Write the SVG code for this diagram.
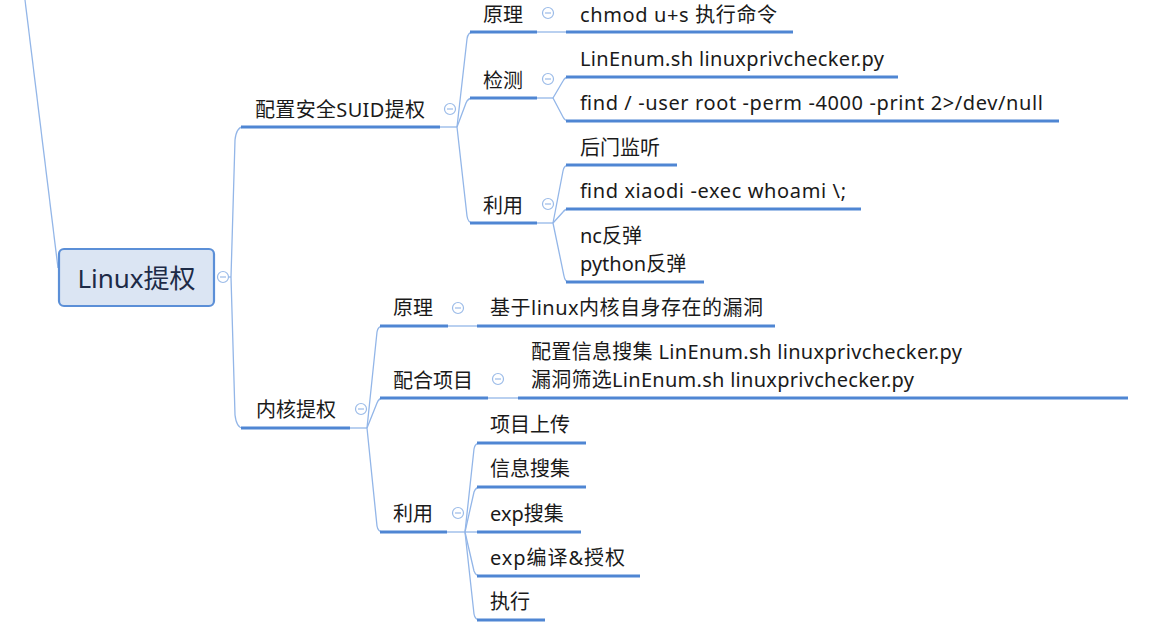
<svg xmlns="http://www.w3.org/2000/svg" width="1166" height="626" viewBox="0 0 1166 626">
<style>
.t{font-family:"Segoe UI","Noto Sans","Noto Sans CJK SC",sans-serif;font-size:20px;fill:#1a1a1a}
.ul{stroke:#4f86d3;stroke-width:3.2;fill:none}
.cn{stroke:#93b6e8;stroke-width:1.3;fill:none}
.cc{fill:#fff;stroke:#9bbbe8;stroke-width:1.2}
.cm{stroke:#9bbbe8;stroke-width:1.2}
</style>
<defs>
<g id="col"><circle class="cc" cx="0" cy="0" r="5.5"/><line class="cm" x1="-3" y1="0" x2="3" y2="0"/></g>
</defs>
<rect width="1166" height="626" fill="#fff"/>
<g id="connectors">
<path class="cn" d="M25 0 L58 268"/>
<path class="cn" d="M228 277 L231 277"/>
<path class="cn" d="M231 277 L235 140 Q236.5 127 243 127"/>
<path class="cn" d="M231 277 L235 415 Q236.5 428 243 428"/>
<path class="cn" d="M440 127 L457 127"/>
<path class="cn" d="M457 127 L467 39 Q468 32 473 32"/>
<path class="cn" d="M457 127 L466 103 Q468 98 473 98"/>
<path class="cn" d="M457 127 L467 216 Q468 223 473 223"/>
<path class="cn" d="M537 32 L566 32"/>
<path class="cn" d="M537 98 L553 98"/>
<path class="cn" d="M553 98 L563 81 Q565 77 569 77"/>
<path class="cn" d="M553 98 L563 117 Q565 121 569 121"/>
<path class="cn" d="M537 223 L553 223"/>
<path class="cn" d="M553 223 L563 171 Q564 165 569 165"/>
<path class="cn" d="M553 223 L563 212 Q565 209 569 209"/>
<path class="cn" d="M553 223 L564 276 Q565 282 569 282"/>
<path class="cn" d="M350 428 L367 428"/>
<path class="cn" d="M367 428 L377 332 Q378 326 383 326"/>
<path class="cn" d="M367 428 L377 403 Q379 398 383 398"/>
<path class="cn" d="M367 428 L377 526 Q378 532 383 532"/>
<path class="cn" d="M448 326 L477 326"/>
<path class="cn" d="M488 398 L518 398"/>
<path class="cn" d="M447 532 L465 532"/>
<path class="cn" d="M465 532 L474 449 Q475 443 480 443"/>
<path class="cn" d="M465 532 L474 492 Q476 487 480 487"/>
<path class="cn" d="M465 532 L480 532"/>
<path class="cn" d="M465 532 L474 571 Q476 576 480 576"/>
<path class="cn" d="M465 532 L474 614 Q475 620 480 620"/>
</g>
<g id="root">
<rect x="59" y="249" width="155" height="57" rx="5" fill="#dbe5f3" stroke="#5b8fd7" stroke-width="2.2"/>
<text x="136.5" y="288" text-anchor="middle" style="font-family:'Segoe UI','Noto Sans','Noto Sans CJK SC',sans-serif;font-size:26px;fill:#1d2b47">Linux提权</text>
<use href="#col" x="223" y="277"/>
</g>
<g id="suid">
<path class="ul" d="M241 127 H440"/>
<text class="t" x="255" y="117" textLength="170" lengthAdjust="spacing">配置安全SUID提权</text>
<use href="#col" x="450" y="109"/>
</g>
<g id="suid-principle">
<path class="ul" d="M470 32 H537"/>
<text class="t" x="483" y="22">原理</text>
<use href="#col" x="548" y="13"/>
</g>
<g id="suid-chmod">
<path class="ul" d="M566 32 H793"/>
<text class="t" x="580" y="22" textLength="197" lengthAdjust="spacing">chmod u+s 执行命令</text>
</g>
<g id="suid-detect">
<path class="ul" d="M470 98 H537"/>
<text class="t" x="483" y="88">检测</text>
<use href="#col" x="548" y="79"/>
</g>
<g id="suid-linenum">
<path class="ul" d="M566 77 H898"/>
<text class="t" x="580" y="66" textLength="304" lengthAdjust="spacing">LinEnum.sh linuxprivchecker.py</text>
</g>
<g id="suid-find">
<path class="ul" d="M566 121 H1059"/>
<text class="t" x="580" y="110" textLength="463" lengthAdjust="spacing">find / -user root -perm -4000 -print 2&gt;/dev/null</text>
</g>
<g id="suid-use">
<path class="ul" d="M470 223 H537"/>
<text class="t" x="483" y="213">利用</text>
<use href="#col" x="548" y="204"/>
</g>
<g id="suid-backdoor">
<path class="ul" d="M566 165 H677"/>
<text class="t" x="580" y="155">后门监听</text>
</g>
<g id="suid-findexec">
<path class="ul" d="M566 209 H861"/>
<text class="t" x="580" y="198" textLength="266" lengthAdjust="spacing">find xiaodi -exec whoami \;</text>
</g>
<g id="suid-reverse">
<path class="ul" d="M566 282 H704"/>
<text class="t" x="580" y="243">nc反弹</text>
<text class="t" x="580" y="271">python反弹</text>
</g>
<g id="kernel">
<path class="ul" d="M241 428 H350"/>
<text class="t" x="256" y="417">内核提权</text>
<use href="#col" x="361" y="409"/>
</g>
<g id="kernel-principle">
<path class="ul" d="M380 326 H448"/>
<text class="t" x="393" y="315">原理</text>
<use href="#col" x="458" y="308"/>
</g>
<g id="kernel-vuln">
<path class="ul" d="M477 326 H775"/>
<text class="t" x="490" y="315" textLength="273" lengthAdjust="spacing">基于linux内核自身存在的漏洞</text>
</g>
<g id="kernel-project">
<path class="ul" d="M380 398 H488"/>
<text class="t" x="393" y="388">配合项目</text>
<use href="#col" x="498" y="379"/>
</g>
<g id="kernel-tools">
<path class="ul" d="M518 398 H1128"/>
<text class="t" x="531" y="359" textLength="431" lengthAdjust="spacing">配置信息搜集 LinEnum.sh linuxprivchecker.py</text>
<text class="t" x="531" y="387" textLength="383" lengthAdjust="spacing">漏洞筛选LinEnum.sh linuxprivchecker.py</text>
</g>
<g id="kernel-use">
<path class="ul" d="M380 532 H447"/>
<text class="t" x="393" y="521">利用</text>
<use href="#col" x="458" y="513"/>
</g>
<g id="k-upload">
<path class="ul" d="M477 443 H586"/>
<text class="t" x="490" y="432">项目上传</text>
</g>
<g id="k-info">
<path class="ul" d="M477 487 H586"/>
<text class="t" x="490" y="476">信息搜集</text>
</g>
<g id="k-exp">
<path class="ul" d="M477 532 H581"/>
<text class="t" x="490" y="521">exp搜集</text>
</g>
<g id="k-compile">
<path class="ul" d="M477 576 H640"/>
<text class="t" x="490" y="565" textLength="135" lengthAdjust="spacing">exp编译&amp;授权</text>
</g>
<g id="k-exec">
<path class="ul" d="M477 620 H545"/>
<text class="t" x="490" y="609">执行</text>
</g>
</svg>
